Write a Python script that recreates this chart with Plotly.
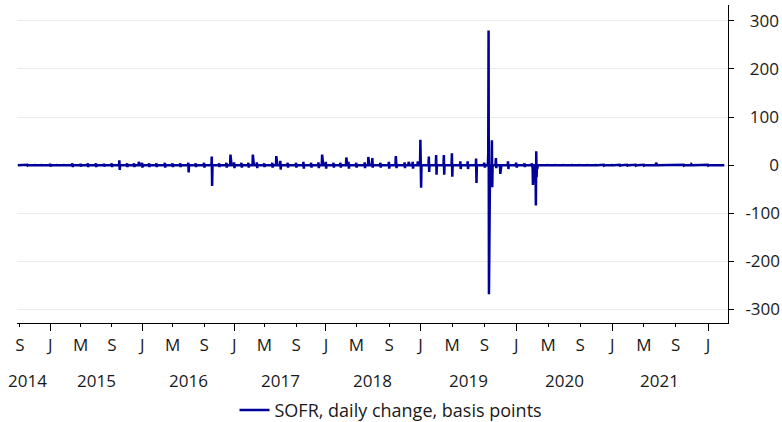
import numpy as np
import pandas as pd
import plotly.graph_objects as go
from pandas.tseries.holiday import USFederalHolidayCalendar

# ---------------- data ----------------
series_start = "2014-08-22"
series_end = "2022-03-04"
holiday_gap_until = "2018-04-02"   # before official publication, no holiday observations

# month-end bumps (+v on last obs of month, -v on first obs of next month), basis points
bumps_2014 = [1, 2, 2, 3]                                  # Sep-Dec
bumps_2015 = [2, 2, 4, 3, 4, 4, 3, 4, 10, 4, 4, 5]
bumps_2016 = [4, 4, 5, 4, 4, 0, 4, 5, 0, 4, 5, 6]
bumps_2017 = [5, 5, 6, 4, 5, 9, 5, 5, 7, 5, 6, 7]
bumps_2018 = [5, 5, 7, 5, 6, 0, 5, 7, 6, 6, 7, 0]
bumps_2019 = [0, 0, 0, 0, 0, 0, 0, 0, 0, 0, 0, 0]
bumps_2020 = [4, 4, 0, 2, 2, 2, 2, 2, 2, 2, 1, 2]
bumps_2021 = [1, 1, 1, 1, 0, 0, 0, 0, 1, 0, 0, 1]
bumps_2022 = [0, 0]

# individual daily changes, basis points
event_dates = [
    "2015-12-17", "2016-06-30", "2016-07-01", "2016-09-30", "2016-10-03",
    "2016-12-15", "2017-03-16", "2017-06-15", "2017-12-14", "2018-03-22",
    "2018-06-14", "2018-06-29", "2018-07-02", "2018-09-27", "2018-11-15",
    "2018-12-20", "2018-12-31", "2019-01-02", "2019-01-31", "2019-02-01",
    "2019-02-28", "2019-03-01", "2019-03-29", "2019-04-01", "2019-04-30",
    "2019-05-01", "2019-05-31", "2019-06-03", "2019-06-28", "2019-07-01",
    "2019-07-31", "2019-08-01", "2019-08-30", "2019-09-03", "2019-09-16",
    "2019-09-17", "2019-09-18", "2019-09-19", "2019-09-30", "2019-10-01",
    "2019-10-15", "2019-10-16", "2019-10-31", "2019-11-29", "2019-12-02",
    "2019-12-31", "2020-01-02", "2020-03-04", "2020-03-16", "2020-03-17",
    "2020-03-18", "2020-03-20", "2021-06-17", "2021-10-29",
]
event_changes = [
    7, 5, -15, 18, -43,
    22, 22, 19, 22, 16,
    17, 15, -5, 19, 7,
    8, 53, -47, 18, -14,
    21, -20, 21, -20, 25,
    -24, 8, -8, 8, -8,
    14, -37, 5, -5, 23,
    280, -268, -30, 52, -46,
    15, -6, -18, 8, -8,
    5, -5, -41, -84, 29,
    -25, -8, 5, 2,
]

tick_dates = ["2014-09-01", "2015-01-01", "2015-05-01", "2015-09-01", "2016-01-01",
              "2016-05-01", "2016-09-01", "2017-01-01", "2017-05-01", "2017-09-01",
              "2018-01-01", "2018-05-01", "2018-09-01", "2019-01-01", "2019-05-01",
              "2019-09-01", "2020-01-01", "2020-05-01", "2020-09-01", "2021-01-01",
              "2021-05-01", "2021-09-01", "2022-01-01"]
tick_labels = ["S", "J", "M", "S", "J", "M", "S", "J", "M", "S", "J", "M", "S",
               "J", "M", "S", "J", "M", "S", "J", "M", "S", "J"]
year_labels = ["2014", "2015", "2016", "2017", "2018", "2019", "2020", "2021"]
year_label_dates = ["2014-10-01", "2015-07-01", "2016-07-01", "2017-07-01",
                    "2018-07-01", "2019-07-01", "2020-07-01", "2021-07-01"]

y_ticks = [-300, -200, -100, 0, 100, 200, 300]
y_tick_text = ["-300", "-200", "-100", "0", "100", "200", "300"]

# ---------------- build observation calendar ----------------
wd = pd.bdate_range(series_start, series_end)
hol = USFederalHolidayCalendar().holidays(series_start, holiday_gap_until)
dates = wd[~(wd.isin(hol) & (wd <= pd.Timestamp(holiday_gap_until)))]
vals = np.zeros(len(dates))

all_bumps = bumps_2014 + bumps_2015 + bumps_2016 + bumps_2017 + bumps_2018 + \
    bumps_2019 + bumps_2020 + bumps_2021 + bumps_2022
months = pd.period_range("2014-09", periods=len(all_bumps), freq="M")
per = dates.to_period("M")
for m, v in zip(months, all_bumps):
    idx = np.where(per == m)[0]
    if len(idx) == 0 or v == 0:
        continue
    last = idx[-1]
    vals[last] += v
    if last + 1 < len(vals):
        vals[last + 1] -= v

for d, v in zip(event_dates, event_changes):
    i = dates.searchsorted(pd.Timestamp(d))
    if i < len(vals):
        vals[i] += v

x_idx = np.arange(len(dates))
tickpos = [dates.searchsorted(pd.Timestamp(d)) - 0.5 for d in tick_dates]
jpos = [p for p, lab in zip(tickpos, tick_labels) if lab == "J"]
ypos = [dates.searchsorted(pd.Timestamp(d)) for d in year_label_dates]
xr = [-2.2, len(dates) - 1 + 10]

# right-align the right-hand tick labels (pad with figure / punctuation spaces)
FIG_SP, PUNCT_SP = "\u2007", "\u2008"
y_tick_disp = []
for t in y_tick_text:
    if t.startswith("-"):
        y_tick_disp.append(t)
    else:
        y_tick_disp.append(PUNCT_SP + FIG_SP * (3 - len(t)) + t)

# ---------------- figure ----------------
fig = go.Figure()
fig.add_trace(go.Scatter(
    x=x_idx, y=vals, mode="lines",
    line=dict(color="#00009a", width=2.5),
    name="SOFR, daily change, basis points",
    text=[d.strftime("%Y-%m-%d") for d in dates],
    hovertemplate="%{text}: %{y}<extra></extra>",
))
fig.add_trace(go.Scatter(x=[], y=[], xaxis="x2", showlegend=False, hoverinfo="skip"))

font_family = "Open Sans"
text_color = "#1a1a1a"
fig.update_layout(
    width=782, height=422,
    margin=dict(l=17, r=54, t=5, b=99, autoexpand=False),
    paper_bgcolor="white", plot_bgcolor="white",
    font=dict(family=font_family, size=17, color=text_color),
    showlegend=True,
    legend=dict(orientation="h", xref="container", x=0.5, xanchor="center",
                yref="container", y=0.028, yanchor="middle",
                font=dict(size=18), bgcolor="rgba(0,0,0,0)"),
    xaxis=dict(range=xr, tickmode="array", tickvals=tickpos, ticktext=tick_labels,
               ticks="outside", ticklen=3, tickcolor="black", tickwidth=1,
               showline=True, linecolor="black", linewidth=1, automargin=False,
               showgrid=False, zeroline=False, ticklabelstandoff=4,
               tickfont=dict(size=17)),
    xaxis2=dict(range=xr, overlaying="x", anchor="y", side="bottom",
                tickmode="array", tickvals=jpos, ticks="outside", ticklen=7,
                tickcolor="black", tickwidth=1, showticklabels=False, automargin=False,
                showline=False, showgrid=False, zeroline=False),
    yaxis=dict(side="right", range=[-328, 333], tickmode="array",
               tickvals=y_ticks, ticktext=y_tick_disp, automargin=False,
               ticks="outside", ticklen=5, tickcolor="black",
               showline=True, linecolor="black", linewidth=1,
               showgrid=True, gridcolor="#ebebeb", gridwidth=1,
               zeroline=False, ticklabelstandoff=8, tickfont=dict(size=17)),
)

for lab, p in zip(year_labels, ypos):
    fig.add_annotation(x=p, y=0, xref="x", yref="paper", text=lab,
                       showarrow=False, yanchor="middle", yshift=-57,
                       font=dict(size=17, family=font_family, color=text_color))

fig.write_html("out.html", config={"displayModeBar": False},
               post_script="document.body.style.margin='0';document.body.style.overflow='hidden';")
